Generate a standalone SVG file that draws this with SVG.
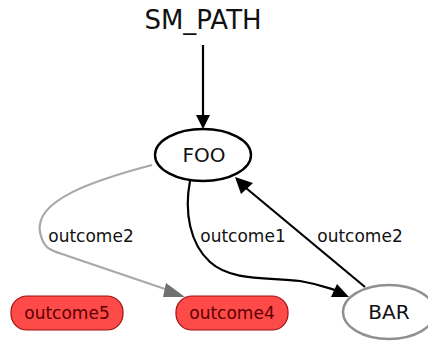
<svg xmlns="http://www.w3.org/2000/svg" width="428" height="343" viewBox="0 0 428 343">
<defs>
<style>
text{font-family:"DejaVu Sans","Liberation Sans",sans-serif;text-anchor:middle}
.lbl{font-size:17px;fill:#111}
.node{font-size:20px;fill:#111}
.term{fill:#ff4a4a;stroke:#a01010;stroke-width:1.2}
.termt{font-size:17px;fill:#5a0000}
.e{fill:none;stroke:#000;stroke-width:2.2}
.g{fill:none;stroke:#a8a8a8;stroke-width:2.2}
</style>
</defs>
<rect width="428" height="343" fill="#fff"/>
<g id="connectors">
<path class="e" d="M203,45 L203,116"/>
<polygon points="196,115 210,115 203,129" fill="#000"/>
<path class="g" d="M152,165 C95,180 34,200 40,232 C43,248 50,250 62,254 L168,290"/>
<polygon points="166,283 163,297 185,297" fill="#707070"/>
<path class="e" d="M190,181 C184,212 190,244 210,262 C232,282 270,277 300,281 C318,284 328,288 335,290"/>
<polygon points="337,284 331,297 349,297" fill="#000"/>
<path class="e" d="M365,287 L246,188"/>
<polygon points="241,194 253,183 235,177" fill="#000"/>
<text class="lbl" x="91" y="242">outcome2</text>
<text class="lbl" x="243" y="242">outcome1</text>
<text class="lbl" x="360" y="242">outcome2</text>
</g>
<g id="SM_PATH">
<text x="203" y="29" style="font-size:26px;fill:#111">SM_PATH</text>
</g>
<g id="FOO">
<ellipse cx="203" cy="155" rx="48" ry="26" fill="#fff" stroke="#000" stroke-width="2.4"/>
<text class="node" x="204" y="162">FOO</text>
</g>
<g id="BAR">
<ellipse cx="389" cy="312" rx="46" ry="27" fill="#fff" stroke="#909090" stroke-width="2.4"/>
<text class="node" x="389" y="319">BAR</text>
</g>
<g id="outcome5">
<rect class="term" x="11" y="296" width="112" height="34" rx="16" ry="16"/>
<text class="termt" x="67" y="319">outcome5</text>
</g>
<g id="outcome4">
<rect class="term" x="176" y="296" width="112" height="34" rx="16" ry="16"/>
<text class="termt" x="232" y="319">outcome4</text>
</g>
</svg>
